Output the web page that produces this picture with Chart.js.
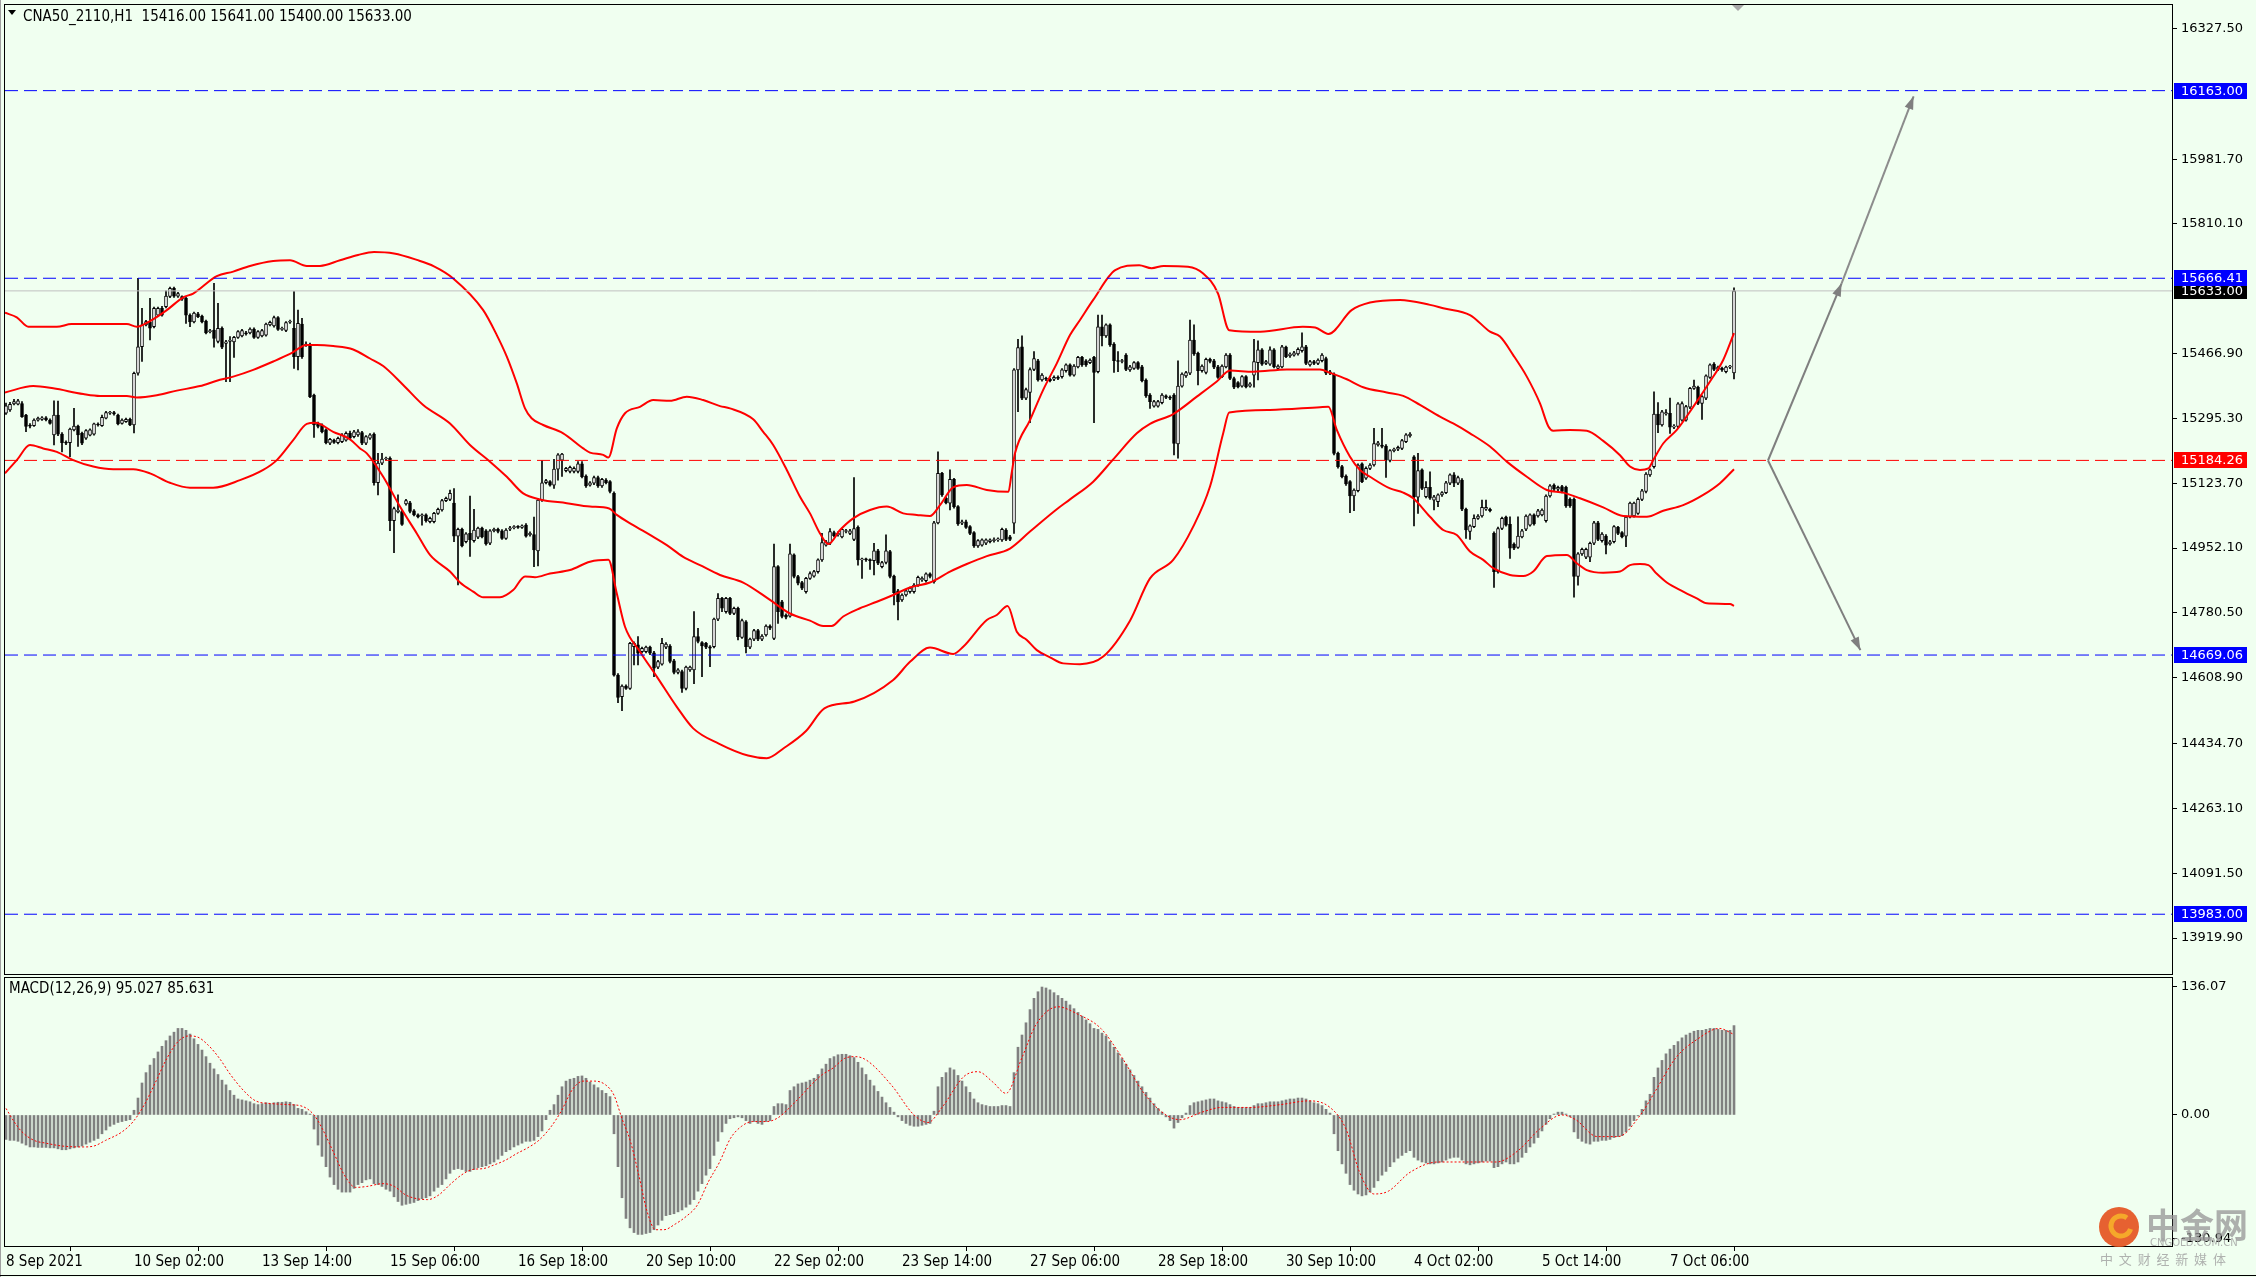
<!DOCTYPE html>
<html>
<head>
<meta charset="utf-8">
<script src="https://cdn.jsdelivr.net/npm/chart.js@4.4.0/dist/chart.umd.min.js"></script>
<style>
  html, body { margin: 0; padding: 0; background: #f0fff0; }
  body { width: 2256px; height: 1277px; position: relative; overflow: hidden; }
  canvas { position: absolute; left: 0; }
  #main { top: 0; }
  #macd { top: 976px; }
</style>
</head>
<body>
<canvas id="main" width="2256" height="976"></canvas>
<canvas id="macd" width="2256" height="301"></canvas>
<script>
// axis ticks / labels
const yTicks = [16327.50, 15981.70, 15810.10, 15466.90, 15295.30, 15123.70, 14952.10,
                14780.50, 14608.90, 14434.70, 14263.10, 14091.50, 13919.90];
const macdTicks = [136.07, 0, -130.94];
const xTickBars = [0, 32, 64, 96, 128, 160, 192, 224, 256, 288, 320, 352, 384, 416];
const xTickLabels = ['8 Sep 2021', '10 Sep 02:00', '13 Sep 14:00', '15 Sep 06:00', '16 Sep 18:00',
                     '20 Sep 10:00', '22 Sep 02:00', '23 Sep 14:00', '27 Sep 06:00', '28 Sep 18:00',
                     '30 Sep 10:00', '4 Oct 02:00', '5 Oct 14:00', '7 Oct 06:00'];

// horizontal levels
const levelPrices = [16163.00, 15666.41, 15184.26, 14669.06, 13983.00];
const levelColors = ['#0000ff', '#0000ff', '#ff0000', '#0000ff', '#0000ff'];
const lastPrice = 15633.00;

// H1 candles [open, high, low, close]
const ohlc = [
  [15309,15336,15306,15329],[15318,15338,15314,15333],[15334,15346,15331,15340],[15333,15346,15331,15342],
  [15335,15340,15298,15300],[15304,15306,15260,15274],[15277,15282,15270,15275],[15276,15294,15274,15291],
  [15291,15299,15288,15296],[15293,15300,15290,15297],[15297,15300,15289,15292],[15291,15294,15280,15282],
  [15252,15342,15225,15304],[15304,15341,15250,15254],[15254,15258,15207,15231],[15233,15236,15226,15230],
  [15231,15270,15194,15267],[15265,15322,15262,15275],[15275,15278,15221,15252],[15256,15259,15226,15230],
  [15243,15266,15240,15263],[15251,15268,15249,15265],[15254,15283,15251,15281],[15280,15284,15275,15278],
  [15276,15304,15274,15298],[15296,15314,15294,15311],[15309,15314,15306,15311],[15311,15314,15304,15307],
  [15304,15307,15278,15281],[15282,15294,15280,15291],[15287,15296,15285,15293],[15293,15296,15276,15278],
  // 32
  [15278,15418,15257,15415],[15415,15666,15410,15485],[15485,15587,15446,15543],[15543,15555,15540,15552],
  [15551,15613,15503,15534],[15538,15590,15535,15587],[15569,15590,15566,15587],[15587,15592,15566,15569],
  [15591,15633,15588,15619],[15618,15643,15615,15640],[15640,15643,15616,15619],[15619,15629,15616,15626],
  [15618,15620,15608,15611],[15613,15616,15547,15569],[15569,15572,15538,15551],[15551,15577,15548,15574],
  [15572,15576,15562,15565],[15566,15569,15548,15551],[15553,15556,15519,15522],[15525,15531,15522,15528],
  [15529,15653,15484,15507],[15499,15600,15495,15534],[15534,15538,15480,15484],[15494,15502,15393,15498],
  [15499,15512,15393,15503],[15498,15513,15457,15510],[15510,15528,15507,15525],[15514,15531,15511,15528],
  [15522,15526,15516,15519],[15522,15535,15519,15532],[15532,15535,15507,15510],[15510,15528,15507,15525],
  // 64
  [15514,15531,15511,15528],[15516,15548,15513,15545],[15543,15553,15540,15550],[15540,15566,15537,15562],
  [15562,15565,15528,15531],[15531,15537,15528,15534],[15528,15552,15525,15549],[15550,15556,15547,15552],
  [15534,15631,15428,15459],[15459,15582,15424,15547],[15545,15560,15454,15459],[15489,15498,15486,15492],
  [15490,15495,15350,15353],[15357,15360,15245,15278],[15282,15286,15270,15274],[15278,15281,15257,15260],
  [15265,15268,15228,15231],[15230,15243,15226,15240],[15238,15241,15229,15232],[15231,15246,15228,15243],
  [15234,15255,15231,15252],[15238,15260,15235,15256],[15256,15262,15240,15243],[15247,15264,15244,15260],
  [15252,15266,15248,15260],[15258,15261,15226,15230],[15230,15250,15226,15247],[15243,15255,15240,15252],
  [15254,15257,15119,15125],[15125,15203,15093,15177],[15177,15203,15173,15188],[15188,15193,15185,15190],
  // 96
  [15190,15194,14998,15025],[15025,15061,14940,15057],[15048,15093,15045,15053],[15049,15052,15012,15015],
  [15069,15081,15066,15078],[15072,15076,15045,15049],[15051,15054,15037,15040],[15040,15043,15032,15035],
  [15037,15043,15013,15040],[15040,15043,15021,15025],[15022,15034,15019,15031],[15022,15047,15019,15044],
  [15044,15058,15041,15055],[15053,15081,15050,15078],[15078,15087,15075,15084],[15081,15106,15078,15097],
  [15071,15110,14969,14984],[14984,15005,14855,15002],[15002,15005,14955,14958],[14969,14993,14966,14990],
  [14991,15090,14930,14974],[14972,15055,14968,15000],[14981,15008,14977,15005],[15005,15008,14979,14982],
  [14998,15001,14960,14963],[14965,15001,14961,14998],[14998,15005,14995,15002],[15002,15005,14992,14996],
  [14998,15001,14975,14978],[14978,15004,14975,15000],[15002,15010,14998,15006],[15006,15012,15003,15009],
  // 128
  [15009,15012,15004,15007],[15007,15014,15004,15011],[15013,15017,14981,14984],[14988,14995,14984,14991],
  [14988,15034,14903,14947],[14945,15083,14905,15079],[15079,15184,15076,15125],[15125,15134,15122,15131],
  [15128,15131,15116,15119],[15119,15187,15110,15161],[15161,15202,15132,15199],[15185,15203,15142,15201],
  [15157,15166,15154,15163],[15155,15169,15151,15166],[15155,15167,15151,15163],[15155,15181,15151,15175],
  [15175,15181,15138,15141],[15143,15146,15113,15117],[15119,15128,15116,15125],[15124,15143,15120,15139],
  [15139,15143,15113,15117],[15117,15137,15113,15134],[15132,15136,15122,15125],[15128,15131,15098,15102],
  [15097,15101,14613,14616],[14616,14620,14543,14557],[14559,14590,14522,14587],[14587,14590,14578,14581],
  [14581,14703,14578,14700],[14691,14704,14643,14700],[14696,14718,14643,14674],[14678,14690,14675,14687],
  // 160
  [14678,14693,14675,14690],[14690,14693,14670,14674],[14675,14679,14612,14634],[14637,14655,14633,14652],
  [14645,14713,14642,14700],[14690,14702,14686,14698],[14693,14697,14648,14652],[14654,14658,14619,14623],
  [14623,14633,14619,14630],[14625,14629,14570,14581],[14581,14640,14577,14637],[14630,14640,14626,14637],
  [14630,14784,14593,14718],[14718,14740,14701,14705],[14702,14705,14612,14693],[14700,14703,14686,14690],
  [14691,14694,14638,14687],[14691,14767,14688,14764],[14764,14832,14760,14819],[14819,14822,14784,14793],
  [14784,14822,14780,14819],[14819,14822,14776,14779],[14779,14796,14776,14793],[14793,14796,14709,14718],
  [14716,14764,14713,14760],[14757,14760,14675,14691],[14690,14714,14686,14711],[14711,14737,14707,14734],
  [14734,14737,14707,14711],[14711,14723,14707,14719],[14722,14749,14719,14746],[14746,14749,14736,14740],
  // 192
  [14713,14963,14710,14903],[14903,14906,14753,14784],[14810,14814,14767,14771],[14775,14778,14765,14769],
  [14772,14963,14769,14937],[14934,14937,14873,14877],[14877,14880,14855,14859],[14861,14864,14842,14846],
  [14837,14875,14833,14872],[14872,14889,14869,14885],[14878,14893,14875,14890],[14890,14924,14886,14921],
  [14921,14991,14917,14967],[14960,14973,14957,14969],[14965,15004,14961,14996],[14993,14997,14982,14985],
  [14987,14995,14984,14991],[14982,15005,14979,15002],[14996,15002,14992,14998],[14991,15002,14988,14998],
  [14975,15139,14972,15004],[15007,15011,14907,14921],[14921,14926,14872,14922],[14922,14926,14917,14921],
  [14921,14924,14896,14919],[14919,14965,14881,14945],[14945,14949,14908,14912],[14903,14917,14900,14914],
  [14914,14987,14910,14945],[14943,14946,14873,14877],[14878,14881,14802,14834],[14839,14843,14762,14810],
  // 224
  [14815,14831,14811,14828],[14828,14843,14825,14839],[14837,14849,14833,14846],[14837,14858,14833,14854],
  [14854,14878,14851,14875],[14868,14876,14864,14872],[14866,14887,14862,14884],[14884,14887,14873,14877],
  [14863,15023,14859,15019],[15019,15207,15016,15150],[15150,15153,15089,15093],[15084,15087,15069,15072],
  [15071,15159,15053,15134],[15134,15137,15058,15062],[15062,15065,15012,15016],[15018,15026,15014,15022],
  [15022,15026,15004,15007],[15009,15012,14988,14991],[14993,14996,14954,14958],[14958,14975,14954,14972],
  [14960,14977,14957,14974],[14965,14977,14961,14974],[14969,14977,14966,14974],[14972,14979,14968,14975],
  [14974,14979,14970,14975],[14974,15005,14970,15002],[15000,15004,14972,14975],[14982,14986,14972,14975],
  [15018,15427,14991,15424],[15424,15505,15313,15483],[15485,15514,15345,15349],[15349,15376,15345,15372],
  // 256
  [15364,15429,15284,15425],[15425,15472,15422,15454],[15448,15452,15394,15397],[15397,15414,15394,15410],
  [15401,15405,15395,15399],[15399,15402,15392,15395],[15399,15408,15395,15404],[15404,15408,15398,15401],
  [15406,15427,15402,15424],[15422,15440,15418,15437],[15437,15440,15407,15410],[15410,15438,15407,15434],
  [15432,15460,15429,15457],[15457,15460,15433,15437],[15448,15451,15433,15437],[15443,15453,15440,15450],
  [15457,15460,15284,15417],[15419,15569,15416,15538],[15538,15569,15487,15514],[15514,15546,15510,15543],
  [15543,15546,15486,15490],[15492,15496,15417,15448],[15448,15472,15419,15446],[15446,15452,15442,15448],
  [15463,15467,15422,15425],[15424,15436,15420,15432],[15428,15446,15425,15443],[15443,15446,15425,15428],
  [15432,15436,15392,15395],[15397,15400,15351,15355],[15357,15361,15322,15340],[15328,15343,15325,15340],
  // 288
  [15328,15343,15325,15340],[15337,15361,15334,15357],[15355,15358,15348,15351],[15351,15355,15345,15349],
  [15357,15361,15199,15229],[15228,15448,15190,15381],[15381,15416,15378,15413],[15408,15420,15404,15417],
  [15415,15556,15411,15503],[15503,15543,15462,15466],[15468,15471,15384,15422],[15422,15437,15418,15434],
  [15417,15455,15413,15452],[15452,15455,15442,15446],[15448,15452,15427,15431],[15432,15436,15401,15404],
  [15406,15437,15403,15434],[15432,15467,15429,15463],[15463,15467,15398,15401],[15401,15405,15374,15378],
  [15390,15393,15376,15379],[15381,15409,15378,15406],[15406,15409,15376,15379],[15381,15390,15378,15387],
  [15410,15505,15378,15446],[15443,15501,15397,15477],[15477,15480,15436,15439],[15441,15449,15438,15446],
  [15439,15485,15436,15477],[15477,15480,15429,15432],[15428,15437,15425,15434],[15432,15489,15429,15485],
  // 320
  [15484,15487,15456,15459],[15461,15469,15457,15466],[15463,15473,15460,15469],[15466,15482,15463,15478],
  [15475,15522,15471,15485],[15485,15489,15438,15441],[15437,15449,15434,15446],[15446,15449,15438,15441],
  [15441,15453,15438,15450],[15448,15467,15445,15463],[15454,15458,15411,15415],[15415,15423,15411,15419],
  [15413,15416,15199,15203],[15203,15206,15164,15168],[15168,15171,15138,15141],[15143,15146,15118,15122],
  [15128,15131,15046,15090],[15090,15109,15051,15106],[15104,15175,15101,15172],[15175,15178,15125,15128],
  [15137,15167,15134,15163],[15163,15176,15160,15172],[15172,15269,15169,15229],[15225,15235,15222,15231],
  [15225,15269,15217,15221],[15222,15226,15139,15185],[15184,15213,15180,15210],[15210,15217,15207,15214],
  [15214,15222,15210,15219],[15216,15240,15213,15237],[15234,15255,15231,15252],[15249,15258,15246,15254],
  // 352
  [15194,15197,15011,15088],[15087,15203,15044,15157],[15159,15162,15107,15110],[15088,15128,15085,15113],
  [15113,15154,15081,15084],[15079,15092,15053,15088],[15075,15096,15062,15093],[15093,15102,15089,15099],
  [15099,15129,15096,15125],[15124,15149,15120,15146],[15146,15152,15115,15124],[15124,15143,15120,15139],
  [15132,15136,15051,15055],[15055,15058,14978,15000],[14996,15014,14975,15011],[15009,15040,15006,15031],
  [15031,15041,15028,15037],[15037,15079,15034,15060],[15055,15079,15052,15060],[15055,15058,15048,15051],
  [14991,14995,14848,14890],[14890,15008,14886,15004],[15004,15034,15001,15031],[15034,15037,15010,15013],
  [15015,15035,14925,14952],[14963,14966,14948,14952],[14954,15035,14951,14984],[14982,15002,14979,14998],
  [15002,15040,14998,15037],[15013,15043,15010,15040],[15040,15043,15013,15016],[15037,15055,15034,15051],
  // 384
  [15040,15056,15037,15053],[15025,15093,15021,15090],[15090,15120,15087,15117],[15119,15122,15104,15108],
  [15108,15116,15104,15113],[15115,15118,15098,15102],[15113,15116,15060,15064],[15081,15085,15060,15064],
  [15081,15085,14822,14877],[14877,14940,14854,14937],[14937,14952,14933,14949],[14928,14952,14924,14949],
  [14928,14968,14916,14965],[14965,15023,14961,15019],[15019,15023,14972,14975],[14972,14993,14968,14989],
  [14984,14988,14937,14960],[14963,14973,14960,14969],[14969,15012,14966,15009],[15007,15010,14988,14991],
  [14993,14996,14979,14982],[14984,15037,14956,15034],[15035,15074,15032,15071],[15037,15074,15034,15071],
  [15044,15085,15041,15081],[15081,15108,15078,15104],[15102,15152,15098,15148],[15146,15162,15142,15159],
  [15168,15366,15164,15307],[15307,15337,15258,15278],[15278,15317,15275,15313],[15307,15319,15304,15311],
  // 416
  [15309,15349,15256,15272],[15272,15279,15268,15275],[15274,15337,15270,15334],[15291,15339,15288,15335],
  [15291,15330,15288,15327],[15325,15378,15321,15375],[15375,15397,15372,15381],[15378,15381,15332,15335],
  [15335,15356,15293,15353],[15349,15411,15345,15408],[15404,15440,15401,15437],[15439,15443,15422,15425],
  [15425,15434,15422,15431],[15428,15431,15420,15424],[15419,15434,15416,15431],[15431,15436,15427,15432],
  [15416,15641,15400,15633]
];

// Bollinger bands (20, 2) read as [bar, price]
const upperBand = [
  [-0.25,15575],[2.7,15563],[5.6,15538],[12.7,15538],[16.4,15545],[30.2,15545],[32.7,15538],[36,15553],
  [40.2,15582],[44.3,15616],[46.8,15626],[52.7,15672],[56.8,15684],[61,15699],[66.8,15712],[71,15714],
  [75.2,15699],[78.5,15699],[83.5,15714],[88,15728],[92,15736],[97,15732],[102.7,15715],[107,15698],
  [111.8,15666],[119.3,15582],[122.7,15516],[125.2,15459],[127.7,15388],[129.75,15322],[131.4,15296],
  [134.3,15278],[139.3,15256],[144.3,15216],[146,15205],[149.3,15199],[150.6,15192],[152.7,15269],
  [154.75,15309],[158.5,15326],[161.8,15344],[166,15342],[170.2,15353],[174.3,15344],[178.5,15328],
  [181,15322],[186.8,15293],[189.3,15260],[191.8,15225],[195.2,15159],[198.5,15088],[201,15044],
  [203.5,14991],[205.6,14963],[208.5,15000],[211.8,15031],[216,15053],[220.2,15062],[224.3,15044],
  [227.7,15040],[231,15037],[233.5,15066],[236.8,15113],[240.2,15119],[245.2,15106],[250.6,15101],
  [251.4,15150],[252.25,15203],[256,15291],[259.3,15371],[262.7,15441],[266,15516],[268.5,15556],
  [271.8,15609],[277.3,15688],[283.3,15701],[286.4,15693],[289.4,15699],[295.5,15697],[299.3,15679],
  [303,15626],[305.8,15529],[313.6,15525],[324.2,15538],[327.3,15536],[330.6,15519],[336.4,15582],
  [341,15602],[348.5,15609],[356,15596],[359.3,15587],[366,15569],[371,15525],[373.5,15512],
  [376.8,15463],[380.2,15406],[383.5,15335],[385.6,15274],[386.8,15263],[391,15265],[395.2,15263],
  [399.3,15236],[403.5,15198],[406,15168],[408.5,15159],[410.6,15163],[411.8,15185],[414.3,15229],
  [417.7,15265],[421.8,15326],[426,15393],[429.3,15450],[432,15521]
];
const middleBand = [
  [-0.25,15364],[6.8,15381],[11.8,15375],[19.3,15360],[23.5,15355],[30.2,15355],[32.7,15351],[37.7,15357],
  [42.7,15369],[48.5,15381],[52.7,15395],[56.8,15406],[61.8,15424],[66.8,15446],[71,15466],[75.2,15490],
  [77.7,15490],[81.8,15487],[86.8,15478],[91,15454],[94.3,15434],[99.3,15384],[104.3,15331],[111,15282],
  [116,15225],[121,15181],[125.2,15141],[129.3,15097],[133.5,15081],[140.2,15071],[146,15062],
  [150.8,15057],[152.7,15040],[156.8,15013],[161,14987],[165.2,14960],[169.3,14929],[173.5,14907],
  [178.5,14881],[184.3,14861],[191,14815],[196,14779],[201,14760],[204.3,14746],[206.4,14746],
  [209.3,14771],[213.5,14793],[217.7,14810],[221.8,14828],[226,14848],[231,14861],[236,14890],
  [240.2,14910],[245.2,14931],[251,14951],[256,14996],[262.7,15055],[266,15081],[271.8,15128],
  [276.8,15187],[282.7,15256],[286,15281],[291.8,15307],[297.7,15353],[302.7,15393],[306,15422],
  [311.8,15419],[320.2,15425],[328.5,15425],[331,15416],[335.2,15399],[339.3,15378],[345.2,15364],
  [349.3,15355],[353.5,15331],[358.5,15300],[361.8,15282],[366,15256],[371,15221],[375.2,15181],
  [380.2,15141],[385.2,15106],[389.3,15099],[393.5,15084],[399.3,15060],[404.3,15037],[410.2,15035],
  [414.3,15051],[419.3,15066],[424.3,15093],[428.5,15124],[432,15161]
];
const lowerBand = [
  [-0.25,15150],[2.7,15185],[6,15225],[9.3,15216],[12.7,15207],[16.8,15185],[21.8,15168],[26.8,15161],
  [31.8,15161],[36,15150],[41,15125],[46,15112],[51.8,15112],[58.5,15132],[64.3,15159],[67.7,15185],
  [71.8,15238],[75.2,15281],[77.25,15284],[81.8,15260],[86,15240],[88.5,15216],[90.2,15203],
  [94.3,15141],[98.5,15062],[102.7,14991],[106,14934],[111,14890],[113.5,14861],[116.8,14837],
  [119.3,14822],[123.5,14822],[126.8,14841],[129.75,14877],[132.25,14875],[136,14885],[141,14894],
  [146,14916],[150.6,14921],[152.7,14832],[154.75,14744],[158.5,14678],[162.7,14612],[167.7,14532],
  [171.8,14475],[178.3,14434],[185.5,14403],[190.2,14396],[194.5,14423],[200,14468],[204.6,14528],
  [212.1,14546],[221.8,14603],[226,14651],[231,14689],[236.8,14672],[239.3,14691],[245.2,14762],
  [247.7,14775],[250.4,14799],[252.7,14731],[255.2,14709],[257.7,14682],[261,14663],[264.3,14647],
  [268.5,14645],[274.3,14665],[281,14760],[286,14872],[291.8,14921],[296.8,15009],[301,15115],
  [304.3,15256],[305.8,15311],[316,15318],[328.5,15325],[330.6,15326],[332.7,15265],[336,15194],
  [338.5,15159],[341,15141],[346,15110],[349.3,15099],[351.8,15084],[356,15035],[359.3,15000],
  [362.7,14987],[366,14943],[369.3,14921],[371.8,14899],[376,14881],[379.3,14878],[381.8,14890],
  [385.2,14931],[390.2,14934],[392.7,14912],[395.2,14894],[399.3,14887],[403.5,14890],[406,14907],
  [408.5,14910],[410.6,14907],[412.7,14884],[415.2,14861],[419.3,14837],[422.7,14819],[425.2,14806],
  [431,14804],[432,14799]
];

// MACD(12,26,9): histogram per bar, signal as [bar, value]
const macdHist = [
  -26,-27,-27,-28,-30,-32,-34,-34,-34.5,-34.5, -34.5,-35,-35,-36,-37,-37,-36,-35,-34,-33,
  -31,-29,-27,-25,-20,-16,-12,-10,-8,-7, -6,-5,5,18,34,45,53,60,67,73,
  79,84,88,92,92,90,86,81,75,69, 62,55,49,43,37,32,26,21,17,16,
  15,14,12,11,12,13,12,13,13.5,13.5, 14,13.5,11,7,6,3.5,1,-15,-32,-44,
  -55,-66,-74,-79,-82,-82,-82,-78,-74,-72, -69,-68,-73,-74,-76,-79,-81,-87,-92,-96,
  -95,-94,-93,-91,-89,-88,-86,-81,-77,-74, -68,-62,-58,-57,-58,-60,-60,-58,-56,-55,
  -54,-52,-50,-47,-43,-39,-37,-34,-32,-30, -28,-28,-27,-23,-17,-5,5,11,21,30,
  36,38,39,41,41.5,39,35,32,29,26, 23,19.5,-20,-55,-88,-110,-120,-125,-127,-127,
  -126,-125,-122,-117,-112,-107,-106,-105,-103,-101, -98,-95,-90,-81,-73,-64,-57,-43,-28,-18,
  -9,-4,-3,-2,-3,-6,-9,-7,-9,-10, -7,-6,9,12,12,11,26,30,33,34,
  35,37,39,43,49,54,60,62,64,64.5, 64.5,63,61,56,50,43,37,31,25,19,
  13,8,3,-2,-6,-9,-11,-12,-12,-11, -10,-9,4,30,40,45,50,48,42,36,
  30,24,17,13,11,10,9,9,9,10, 10,9,45,72,85,98,112,124,131,136,
  135,133,130,127,124,121,117,113,109,105, 101,97,92,91,87,84,78,72,66,60,
  54,48,42,36,30,24,18,12,7,3, -2,-6,-14,-8,-3,2,10,13,14,15,
  16,17,17,15,14,13,11,9,8,8, 8,8,10,12,12,13,14,14,14,15,
  16,17,17,18,18,17,15,13,12,10, 6,2,-20,-38,-52,-62,-74,-80,-84,-86,
  -85,-82,-77,-70,-64,-60,-55,-50,-46,-43, -40,-38,-45,-48,-50,-51,-52,-52,-51,-50,
  -48,-46,-45,-45,-48,-52,-53,-52,-51,-50, -49,-49,-56,-55,-52,-50,-52,-52,-50,-45,
  -40,-34,-30,-24,-17,-10,-4,1,3,3, 1,-2,-18,-25,-28,-30,-31,-28,-28,-27,
  -27,-26,-24,-23,-22,-18,-12,-6,-1,6, 15,22,40,50,58,65,70,74,78,82,
  85,87,89,90,90,91,92,92,91,90, 90,90,95
];
const macdSignal = [
  [0,7],[2,-7],[4,-18],[7,-27],[10,-30],[14,-33],[19.3,-34],[22,-33],[24.9,-27],[29,-18],[31.8,-7],
  [34.6,11],[37.4,35],[40.2,60],[43,78],[45.7,84],[47.8,83],[50.6,74],[53.4,60],[56.1,43],[59.6,25],
  [62.4,15],[66.6,12],[70.7,11],[74.2,9],[77,0],[79,-14],[81.8,-39],[84.6,-64],[87.4,-77],[90.2,-76],
  [94.3,-73],[97.1,-76],[99.9,-85],[102.7,-89],[105.4,-90],[108.2,-85],[111,-74],[113.8,-64],
  [116.6,-58],[119.3,-57],[122.1,-53],[124.9,-48],[127.7,-41],[130.4,-35],[133.2,-27],[136,-14],
  [138.8,4],[141.6,27],[144.3,36],[147.1,36],[149.9,32],[152,21],[154,-4],[156.1,-28],[158.2,-64],
  [160.3,-103],[162.4,-122],[164.5,-122],[167.3,-116],[170,-108],[172.8,-96],[175.6,-71],[178.4,-50],
  [181.1,-25],[183.9,-12],[186.7,-7],[190.2,-7],[193,-3],[195.7,7],[198.5,19],[201.3,32],[204.1,43],
  [206.8,50],[209.6,60],[212.4,62],[215.2,58],[221.5,31],[227,0],[230.5,-8],[234,8],[239.5,41],
  [243,46],[246.7,35],[250,23],[254,61],[257.5,96],[263,115],[268,107],[273.7,92],[279,61],
  [284.5,23],[290,0],[293.5,-5],[299,3],[304,8],[311,8],[318.6,11],[325.8,15],[331,8],[335,-15],
  [338.4,-61],[342,-84],[345.6,-81],[351,-61],[358,-50],[365.4,-50],[372.6,-50],[378,-38],
  [383.4,-15],[389,0],[392.4,-5],[397.8,-23],[403,-23],[408.6,0],[412,23],[417.5,61],[423,81],
  [428.3,92],[432,85.6]
];

// drawn arrows [bar, price]
const arrowUp1 = [[440.5, 15184], [458.9, 15653]];
const arrowUp2 = [[458.9, 15653], [476.9, 16148]];
const arrowDown = [[440.5, 15184], [463.6, 14682]];

const xMin = -0.25, xMax = 541.5;
const narrowFont = "'Liberation Sans Narrow', 'DejaVu Sans Condensed', 'Liberation Sans', sans-serif";
const axisFont = "'DejaVu Sans', sans-serif";

const toXY = arr => arr.map(p => ({ x: p[0], y: p[1] }));

// keep the pane edges where MT4 puts them (no room reserved for half labels)
const noLabelPadding = s => { s.paddingTop = 0; s.paddingBottom = 0; s.paddingLeft = 0; s.paddingRight = 0; };

const framePlugin = {
  id: 'frame',
  beforeDraw(chart) {
    const ctx = chart.ctx;
    ctx.save();
    ctx.fillStyle = '#f0fff0';
    ctx.fillRect(0, 0, chart.width, chart.height);
    ctx.restore();
  },
  afterDraw(chart) {
    const { ctx, chartArea: a } = chart;
    ctx.save();
    ctx.strokeStyle = '#000';
    ctx.lineWidth = 1;
    ctx.strokeRect(Math.round(a.left) - 0.5, Math.round(a.top) - 0.5,
                   Math.round(a.right - a.left) + 1, Math.round(a.bottom - a.top) + 1);
    ctx.strokeStyle = '#a0a0a0';
    ctx.beginPath();
    ctx.moveTo(0.5, 0); ctx.lineTo(0.5, chart.height);
    ctx.stroke();
    ctx.restore();
  }
};

function arrowHead(ctx, x1, y1, x2, y2) {
  const ang = Math.atan2(y2 - y1, x2 - x1);
  const len = 13, half = 4.5;
  ctx.beginPath();
  ctx.moveTo(x2, y2);
  ctx.lineTo(x2 - len * Math.cos(ang) + half * Math.sin(ang), y2 - len * Math.sin(ang) - half * Math.cos(ang));
  ctx.lineTo(x2 - len * Math.cos(ang) - half * Math.sin(ang), y2 - len * Math.sin(ang) + half * Math.cos(ang));
  ctx.closePath();
  ctx.fill();
}

const mainDecor = {
  id: 'mainDecor',
  afterDraw(chart) {
    const { ctx, chartArea: a, scales: { x, y } } = chart;
    ctx.save();
    // arrow heads
    ctx.fillStyle = '#7f7f7f';
    [arrowUp1, arrowUp2, arrowDown].forEach(seg => {
      arrowHead(ctx, x.getPixelForValue(seg[0][0]), y.getPixelForValue(seg[0][1]),
                x.getPixelForValue(seg[1][0]), y.getPixelForValue(seg[1][1]));
    });
    // price tags on the axis
    ctx.font = '13px ' + axisFont;
    ctx.textBaseline = 'middle';
    const tag = (p, bg) => {
      const py = Math.round(y.getPixelForValue(p));
      ctx.fillStyle = bg;
      ctx.fillRect(a.right + 2, py - 8, 73, 16);
      ctx.fillStyle = '#fff';
      ctx.fillText(p.toFixed(2), a.right + 9, py + 1);
    };
    tag(lastPrice, '#000');
    levelPrices.forEach((p, i) => tag(p, levelColors[i]));
    // header
    ctx.fillStyle = '#000';
    ctx.beginPath();
    ctx.moveTo(8, 10); ctx.lineTo(16, 10); ctx.lineTo(12, 15); ctx.closePath(); ctx.fill();
    ctx.font = '15px ' + narrowFont;
    ctx.textBaseline = 'middle';
    ctx.fillText('CNA50_2110,H1  15416.00 15641.00 15400.00 15633.00', 23, 17);
    // chart shift marker
    const sx = x.getPixelForValue(433);
    ctx.fillStyle = '#a8a8a8';
    ctx.beginPath();
    ctx.moveTo(sx - 6, a.top); ctx.lineTo(sx + 6, a.top); ctx.lineTo(sx, a.top + 6); ctx.closePath(); ctx.fill();
    ctx.restore();
  }
};

const macdDecor = {
  id: 'macdDecor',
  afterDraw(chart) {
    const { ctx, chartArea: a } = chart;
    ctx.save();
    ctx.fillStyle = '#000';
    ctx.font = '15px ' + narrowFont;
    ctx.textBaseline = 'middle';
    ctx.fillText('MACD(12,26,9) 95.027 85.631', 9, a.top + 11);
    // bottom window edge
    ctx.strokeStyle = '#000';
    ctx.beginPath(); ctx.moveTo(0, chart.height - 1.5); ctx.lineTo(chart.width, chart.height - 1.5); ctx.stroke();
    // watermark
    ctx.globalAlpha = 0.9;
    const cx = 2119, cy = 251;
    ctx.fillStyle = '#e4501c';
    ctx.beginPath(); ctx.arc(cx, cy, 20, 0, Math.PI * 2); ctx.fill();
    ctx.beginPath(); ctx.arc(cx + 2, cy - 1, 10, 0.3, Math.PI * 1.7); ctx.lineWidth = 5; ctx.strokeStyle = '#f6b02a'; ctx.stroke();
    ctx.fillStyle = 'rgba(150,150,150,0.85)';
    ctx.font = 'bold 34px "Noto Sans CJK SC"';
    ctx.fillText('中金网', 2146, cy - 2);
    ctx.font = '10px ' + axisFont;
    ctx.fillStyle = 'rgba(160,160,160,0.9)';
    ctx.fillText('CNGOLD.COM.CN', 2150, cy + 16);
    ctx.font = '13px "Noto Sans CJK SC"';
    ctx.fillText('中  文  财  经  新  媒  体', 2100, 283);
    ctx.restore();
  }
};

const lineDs = (data, color, width, dash, order, extra) => Object.assign({
  type: 'line', data: toXY(data), borderColor: color, borderWidth: width, borderDash: dash || [],
  pointRadius: 0, fill: false, tension: 0, order: order
}, extra || {});

// main price pane
const mainDatasets = [
  lineDs(arrowUp1, '#7f7f7f', 2, null, 1),
  lineDs(arrowUp2, '#8c8c8c', 2, null, 1),
  lineDs(arrowDown, '#7f7f7f', 2, null, 1),
  ...levelPrices.map((p, i) => lineDs([[xMin, p], [xMax, p]], levelColors[i], 1, [13, 6], 2)),
  lineDs([[xMin, lastPrice], [xMax, lastPrice]], '#c0c0c0', 1, null, 2),
  lineDs(upperBand, '#ff0000', 2, null, 3, { cubicInterpolationMode: 'monotone' }),
  lineDs(middleBand, '#ff0000', 2, null, 3, { cubicInterpolationMode: 'monotone' }),
  lineDs(lowerBand, '#ff0000', 2, null, 3, { cubicInterpolationMode: 'monotone' }),
  {
    type: 'bar', order: 4, grouped: false, barThickness: 3, minBarLength: 1,
    data: ohlc.map((c, i) => ({ x: i, y: [c[0], c[3]] })),
    backgroundColor: ohlc.map(c => c[3] >= c[0] ? '#ffffff' : '#000000'),
    borderColor: '#000000', borderWidth: 1, borderSkipped: false
  },
  {
    type: 'bar', order: 5, grouped: false, barThickness: 1,
    data: ohlc.map((c, i) => ({ x: i, y: [c[2], c[1]] })),
    backgroundColor: '#000000'
  }
];

new Chart(document.getElementById('main'), {
  type: 'bar',
  data: { datasets: mainDatasets },
  options: {
    responsive: false, animation: false, events: [],
    layout: { autoPadding: false, padding: { left: 5, top: 5, right: 0, bottom: 2 } },
    plugins: { legend: { display: false }, tooltip: { enabled: false } },
    scales: {
      x: { type: 'linear', min: xMin, max: xMax, offset: false, display: false },
      y: {
        position: 'right', min: 13824.8, max: 16389.7,
        afterFit: s => { s.width = 84; noLabelPadding(s); },
        afterBuildTicks: s => { s.ticks = yTicks.map(v => ({ value: v })); },
        ticks: { callback: v => v.toFixed(2), color: '#000', padding: 4, autoSkip: false,
                 font: { family: axisFont, size: 13 } },
        grid: { drawOnChartArea: false, tickLength: 5, color: '#000' },
        border: { color: '#000' }
      }
    }
  },
  plugins: [framePlugin, mainDecor]
});

// MACD pane
new Chart(document.getElementById('macd'), {
  type: 'bar',
  data: {
    datasets: [
      lineDs(macdSignal, '#ff0000', 1, [2, 2], 1, { cubicInterpolationMode: 'monotone' }),
      {
        type: 'bar', order: 2, grouped: false, barThickness: 2,
        data: macdHist.map((v, i) => ({ x: i, y: v })),
        backgroundColor: '#808080'
      }
    ]
  },
  options: {
    responsive: false, animation: false, events: [],
    layout: { autoPadding: false, padding: { left: 5, top: 2, right: 0, bottom: 0 } },
    plugins: { legend: { display: false }, tooltip: { enabled: false } },
    scales: {
      x: {
        type: 'linear', min: xMin, max: xMax, offset: false, position: 'bottom',
        afterFit: s => { s.height = 31; noLabelPadding(s); },
        afterBuildTicks: s => { s.ticks = xTickBars.map(v => ({ value: v })); },
        ticks: {
          callback: v => xTickLabels[xTickBars.indexOf(v)], align: 'start', autoSkip: false,
          maxRotation: 0, color: '#000', padding: 2, font: { family: narrowFont, size: 15 }
        },
        grid: { drawOnChartArea: false, tickLength: 5, color: '#000' },
        border: { color: '#000' }
      },
      y: {
        position: 'right', min: -139.3, max: 145.6,
        afterFit: s => { s.width = 84; noLabelPadding(s); },
        afterBuildTicks: s => { s.ticks = macdTicks.map(v => ({ value: v })); },
        ticks: { callback: v => v.toFixed(2), color: '#000', padding: 4, autoSkip: false,
                 font: { family: axisFont, size: 13 } },
        grid: { drawOnChartArea: false, tickLength: 5, color: '#000' },
        border: { color: '#000' }
      }
    }
  },
  plugins: [framePlugin, macdDecor]
});
</script>
</body>
</html>
